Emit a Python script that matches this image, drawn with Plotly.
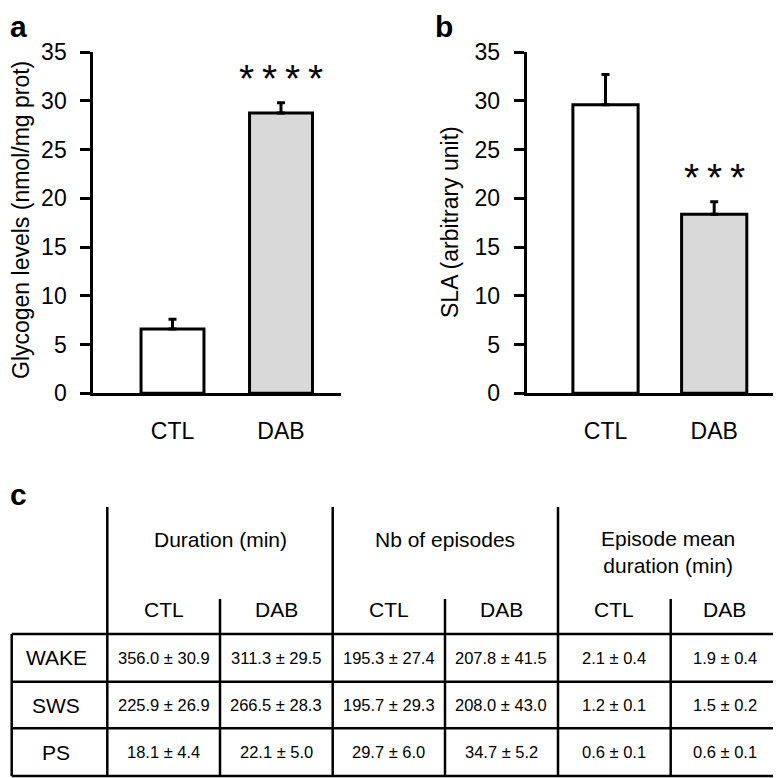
import plotly.graph_objects as go

# the page body adds an 8px margin, so the figure is drawn 8px in from the
# top-left corner; positions below are given in screenshot pixels
OFF = 8
W, H = 773, 770

groups = ['CTL', 'DAB']
bar_colors = ['white', '#d9d9d9']

glycogen = [6.6, 28.75]
glycogen_sem = [1.0, 1.05]
sla = [29.6, 18.35]
sla_sem = [3.1, 1.3]

stars_a = '*\u2009*\u2009*\u2009*'
stars_b = '*\u2009*\u2009*'

# table
table_groups = ['Duration (min)', 'Nb of episodes', 'Episode mean<br>duration (min)']
states = ['WAKE', 'SWS', 'PS']
table_vals = [
    ['356.0 ± 30.9', '311.3 ± 29.5', '195.3 ± 27.4', '207.8 ± 41.5', '2.1 ± 0.4', '1.9 ± 0.4'],
    ['225.9 ± 26.9', '266.5 ± 28.3', '195.7 ± 29.3', '208.0 ± 43.0', '1.2 ± 0.1', '1.5 ± 0.2'],
    ['18.1 ± 4.4', '22.1 ± 5.0', '29.7 ± 6.0', '34.7 ± 5.2', '0.6 ± 0.1', '0.6 ± 0.1'],
]


def px(x):
    return (x - OFF) / W


def py(y):
    return 1 - (y - OFF) / H


FONT = 'Liberation Sans, Arial, sans-serif'

fig = go.Figure()
fig.add_trace(go.Bar(
    x=groups, y=glycogen, width=0.58,
    marker=dict(color=bar_colors, line=dict(color='black', width=3)),
    error_y=dict(type='data', symmetric=False, array=glycogen_sem, arrayminus=[0, 0],
                 color='black', thickness=3, width=4),
    xaxis='x', yaxis='y', showlegend=False,
))
fig.add_trace(go.Bar(
    x=groups, y=sla, width=0.6,
    marker=dict(color=bar_colors, line=dict(color='black', width=3)),
    error_y=dict(type='data', symmetric=False, array=sla_sem, arrayminus=[0, 0],
                 color='black', thickness=3, width=4),
    xaxis='x2', yaxis='y2', showlegend=False,
))

yax = dict(range=[0, 35], dtick=5, showline=True, linecolor='black', linewidth=3,
           ticks='outside', ticklen=10, tickwidth=3, tickcolor='black',
           showgrid=False, zeroline=False, ticklabelstandoff=9, automargin=False,
           tickfont=dict(size=23, color='black', family=FONT),
           domain=[py(393.3), py(52)])
xax = dict(showline=True, linecolor='black', linewidth=3, ticks='', showgrid=False,
           zeroline=False, tickfont=dict(size=23, color='black', family=FONT),
           ticklabelstandoff=15, automargin=False)

fig.update_layout(
    width=W, height=H,
    margin=dict(l=0, r=0, t=0, b=0, pad=0),
    plot_bgcolor='white', paper_bgcolor='white',
    font=dict(family=FONT, color='black'),
    xaxis=dict(xax, domain=[px(93.3), px(341)], range=[-0.73, 1.553], anchor='y'),
    yaxis=dict(yax, anchor='x'),
    xaxis2=dict(xax, domain=[px(526.7), px(776.7)], range=[-0.725, 1.575], anchor='y2'),
    yaxis2=dict(yax, anchor='x2'),
)

ann = []
# panel letters
ann.append(dict(text='<b>a</b>', x=px(OFF), y=py(OFF), xanchor='left', yanchor='top',
                font=dict(size=30)))
ann.append(dict(text='<b>b</b>', x=px(433), y=py(OFF), xanchor='left', yanchor='top',
                font=dict(size=30)))
ann.append(dict(text='<b>c</b>', x=px(OFF), y=py(476), xanchor='left', yanchor='top',
                font=dict(size=30)))
# y titles
ann.append(dict(text='Glycogen levels (nmol/mg prot)', textangle=-90, x=px(21), y=py(220),
                xanchor='center', yanchor='middle', font=dict(size=23)))
ann.append(dict(text='SLA (arbitrary unit)', textangle=-90, x=px(450), y=py(222),
                xanchor='center', yanchor='middle', font=dict(size=23)))
# significance stars
ann.append(dict(text=stars_a, x='DAB', y=glycogen[1] + glycogen_sem[1], xref='x', yref='y',
                yshift=24, showarrow=False, font=dict(size=39)))
ann.append(dict(text=stars_b, x='DAB', y=sla[1] + sla_sem[1], xref='x2', yref='y2',
                yshift=24, showarrow=False, font=dict(size=39)))

# table lines
shapes = []
line = dict(color='black', width=2.5)
x_left, x_right = 11.7, 778.5
group_x = [107.3, 332.7, 558.0, x_right]
sub_x = [220.0, 445.0, 670.7]
row_y = [634.0, 681.7, 728.3, 776.0]
for x in group_x:
    shapes.append(dict(type='line', xref='paper', yref='paper', x0=px(x), x1=px(x),
                       y0=py(507), y1=py(776), line=line))
for x in sub_x:
    shapes.append(dict(type='line', xref='paper', yref='paper', x0=px(x), x1=px(x),
                       y0=py(599), y1=py(776), line=line))
shapes.append(dict(type='line', xref='paper', yref='paper', x0=px(x_left), x1=px(x_left),
                   y0=py(634), y1=py(776), line=line))
for y in row_y:
    shapes.append(dict(type='line', xref='paper', yref='paper', x0=px(x_left), x1=px(x_right),
                       y0=py(y), y1=py(y), line=line))

col_edges = [107.3, 220.0, 332.7, 445.0, 558.0, 670.7, 778.5]
for i, g in enumerate(table_groups):
    cx = (group_x[i] + group_x[i + 1]) / 2
    ann.append(dict(text=g, x=px(cx), y=py(552 if '<br>' in g else 539),
                    xanchor='center', yanchor='middle', font=dict(size=21)))
for j in range(6):
    cx = (col_edges[j] + col_edges[j + 1]) / 2
    ann.append(dict(text=groups[j % 2], x=px(cx), y=py(609), xanchor='center',
                    yanchor='middle', font=dict(size=21)))
for r, s in enumerate(states):
    cy = (row_y[r] + row_y[r + 1]) / 2
    ann.append(dict(text=s, x=px(56), y=py(cy), xanchor='center', yanchor='middle',
                    font=dict(size=21)))
    for j in range(6):
        cx = (col_edges[j] + col_edges[j + 1]) / 2
        ann.append(dict(text=table_vals[r][j], x=px(cx), y=py(cy), xanchor='center',
                        yanchor='middle', font=dict(size=16.5)))

for a in ann:
    a.setdefault('xref', 'paper')
    a.setdefault('yref', 'paper')
    a.setdefault('showarrow', False)

fig.update_layout(annotations=ann, shapes=shapes)
fig.write_html('out.html')
